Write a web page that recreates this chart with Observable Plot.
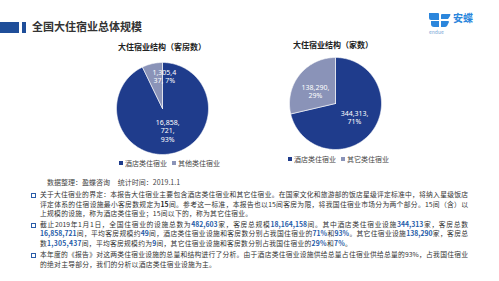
<!DOCTYPE html>
<html><head><meta charset="utf-8">
<script src="https://cdn.jsdelivr.net/npm/d3@7"></script>
<script src="https://cdn.jsdelivr.net/npm/@observablehq/plot@0.6"></script>
<style>
body{margin:0;background:#fff;width:499px;height:281px;overflow:hidden;position:relative;font-family:"Noto Sans CJK SC","Noto Sans",sans-serif;color:#333}
.abs{position:absolute;white-space:nowrap}
.ptitle{font-size:8px;font-weight:bold;color:#222;transform:translateX(-50%)}
.leg{font-size:7px;color:#444;display:flex;align-items:center;transform:translateX(-50%)}
.leg span.sw{display:inline-block;width:4px;height:4px;margin-right:2px}
.leg span.it{display:flex;align-items:center;margin-right:5px}
.para{position:absolute;left:40px;width:428px;font-size:6.8px;line-height:9.5px;color:#333}
.para div{text-align:justify;text-align-last:justify;white-space:nowrap}
.para div.last{text-align-last:left;letter-spacing:0.25px}
.para b{color:#1f5ba8}
.para b.k{color:#222}
.bul{position:absolute;left:31px;width:3px;height:3px;border:1px solid #2a5ca8}
</style></head><body>
<script>
// ---- data ----
const categoriesRooms = ["酒店类住宿业", "其他类住宿业"];
const categoriesFacilities = ["酒店类住宿业", "其它类住宿业"];
const roomValues = [16858721, 1305437];
const roomLabels = ["16,858,\n721,\n93%", "1,305,4\n37, 7%"];
const facilityValues = [344313, 138290];
const facilityLabels = ["344,313,\n71%", "138,290,\n29%"];
const chartTitles = ["大住宿业结构（客房数）", "大住宿业结构（家数）"];
const sliceColors = ["#1f3c8c", "#8a93b8"];

const body = document.body;
function el(html){const d=document.createElement("div");d.innerHTML=html;const n=d.firstElementChild;body.appendChild(n);return n;}

// header
el('<div class="abs" style="left:0;top:22px;width:19px;height:11px;background:#1f4e99"></div>');
el('<div class="abs" style="left:22px;top:22px;width:4px;height:11px;background:#1f4e99"></div>');
el('<div class="abs" style="left:32px;top:19px;font-size:11px;font-weight:bold;color:#333;line-height:15px">全国大住宿业总体规模</div>');
// logo
el(`<svg class="abs" style="left:428px;top:12px" width="24" height="16" viewBox="0 0 24 16">
<path d="M1 1 H10 Q11 1 11 2 V8 H3 Q1 8 1 6 Z" fill="#2b86dc"/>
<path d="M13 3 Q13 2 14 2 H22 Q23 2 22 4 L20 7 H13 Z" fill="#2b86dc"/>
<path d="M3 9 H11 V15 H6 Q3 15 3 12 Z" fill="#2b86dc"/>
<path d="M13 9 H20 Q21 9 21 10 L19 14 Q18 15 17 15 H13 Z" fill="#2b86dc"/>
</svg>`);
el('<div class="abs" style="left:453px;top:11px;font-size:10px;font-weight:bold;color:#2b86dc;line-height:14px">安蝶</div>');
el('<div class="abs" style="left:429px;top:29px;font-size:5px;color:#7aa7d6;line-height:6px">endue</div>');

// pies
const D = 50/46;
function pie(values, names, labels, cx, cy, offs){
  const arcs = d3.pie().sort(null)(values);
  const pts = [];
  arcs.forEach((a,i)=>{
    pts.push({k:names[i],x:0,y:0});
    const n = Math.max(4, Math.ceil((a.endAngle-a.startAngle)/0.02));
    for(let j=0;j<=n;j++){const t=a.startAngle+(a.endAngle-a.startAngle)*j/n;pts.push({k:names[i],x:Math.sin(t),y:Math.cos(t)});}
    pts.push({k:names[i],x:0,y:0});
  });
  const lab = arcs.map((a,i)=>{const m=(a.startAngle+a.endAngle)/2;return {k:names[i],x:0.5*Math.sin(m),y:0.5*Math.cos(m),t:labels[i]};});
  const svg = Plot.plot({
    width:100,height:100,margin:0,
    x:{domain:[-D,D],axis:null},y:{domain:[-D,D],axis:null},
    color:{domain:names,range:sliceColors},
    style:{background:"transparent",overflow:"visible"},
    marks:[
      Plot.line(pts,{x:"x",y:"y",z:"k",fill:"k",stroke:"white",strokeWidth:0.6,curve:"linear"}),
      Plot.text([lab[0]],{x:"x",y:"y",text:"t",fill:"white",fontSize:7,lineHeight:1.15,dx:offs[0][0],dy:offs[0][1],fontFamily:"Noto Sans"}),
      Plot.text([lab[1]],{x:"x",y:"y",text:"t",fill:"white",fontSize:7,lineHeight:1.15,dx:offs[1][0],dy:offs[1][1],fontFamily:"Noto Sans"})
    ]
  });
  svg.style.position="absolute";svg.style.left=(cx-50)+"px";svg.style.top=(cy-50)+"px";
  body.appendChild(svg);
}
pie(roomValues, categoriesRooms, roomLabels, 161.5, 108, [[0,0],[7,-9.5]]);
pie(facilityValues, categoriesFacilities, facilityLabels, 335, 102.5, [[1,0],[-2,2.5]]);

el(`<div class="abs ptitle" style="left:162px;top:41px">${chartTitles[0]}</div>`);
el(`<div class="abs ptitle" style="left:333px;top:39px">${chartTitles[1]}</div>`);
function legend(names, cx, top){
  el(`<div class="abs leg" style="left:${cx}px;top:${top}px">`+names.map((n,i)=>`<span class="it"><span class="sw" style="background:${sliceColors[i]}"></span>${n}</span>`).join("")+`</div>`);
}
legend(categoriesRooms, 172, 158);
legend(categoriesFacilities, 341, 154);

el('<div class="abs" style="left:47px;top:177px;font-size:7px;color:#444;line-height:10px">数据整理：盈蝶咨询&nbsp;&nbsp;&nbsp;&nbsp;&nbsp;统计时间：2019.1.1</div>');

// body text
el('<div class="bul" style="top:193px"></div>');
el('<div class="bul" style="top:222.5px"></div>');
el('<div class="bul" style="top:253px"></div>');
el(`<div class="para" style="top:190.25px">
<div>关于大住宿业的界定：本报告大住宿业主要包含酒店类住宿业和其它住宿业。在国家文化和旅游部的饭店星级评定标准中，将纳入星级饭店</div>
<div>评定体系的住宿设施最小客房数规定为<b class="k">15</b>间。参考这一标准，本报告也以15间客房为限，将我国住宿业市场分为两个部分。15间（含）以</div>
<div class="last">上规模的设施，称为酒店类住宿业；15间以下的，称为其它住宿业。</div></div>`);
el(`<div class="para" style="top:219.75px">
<div>截止2019年1月1日，全国住宿业的设施总数为<b>482,603</b>家，客房总规模<b>18,164,158</b>间。其中酒店类住宿业设施<b>344,313</b>家，客房总数</div>
<div><b>16,858,721</b>间，平均客房规模约<b>49</b>间，酒店类住宿业设施和客房数分别占我国住宿业的<b>71%</b>和<b>93%</b>。其它住宿业设施<b>138,290</b>家，客房总</div>
<div class="last">数<b>1,305,437</b>间，平均客房规模约为<b>9</b>间，其它住宿业设施和客房数分别占我国住宿业的<b>29%</b>和<b>7%</b>。</div></div>`);
el(`<div class="para" style="top:250.25px">
<div>本年度的《报告》对这两类住宿业设施的总量和结构进行了分析。由于酒店类住宿业设施供给总量占住宿业供给总量的93%，占我国住宿业</div>
<div class="last">的绝对主导部分，我们的分析以酒店类住宿业设施为主。</div></div>`);
</script>
</body></html>
